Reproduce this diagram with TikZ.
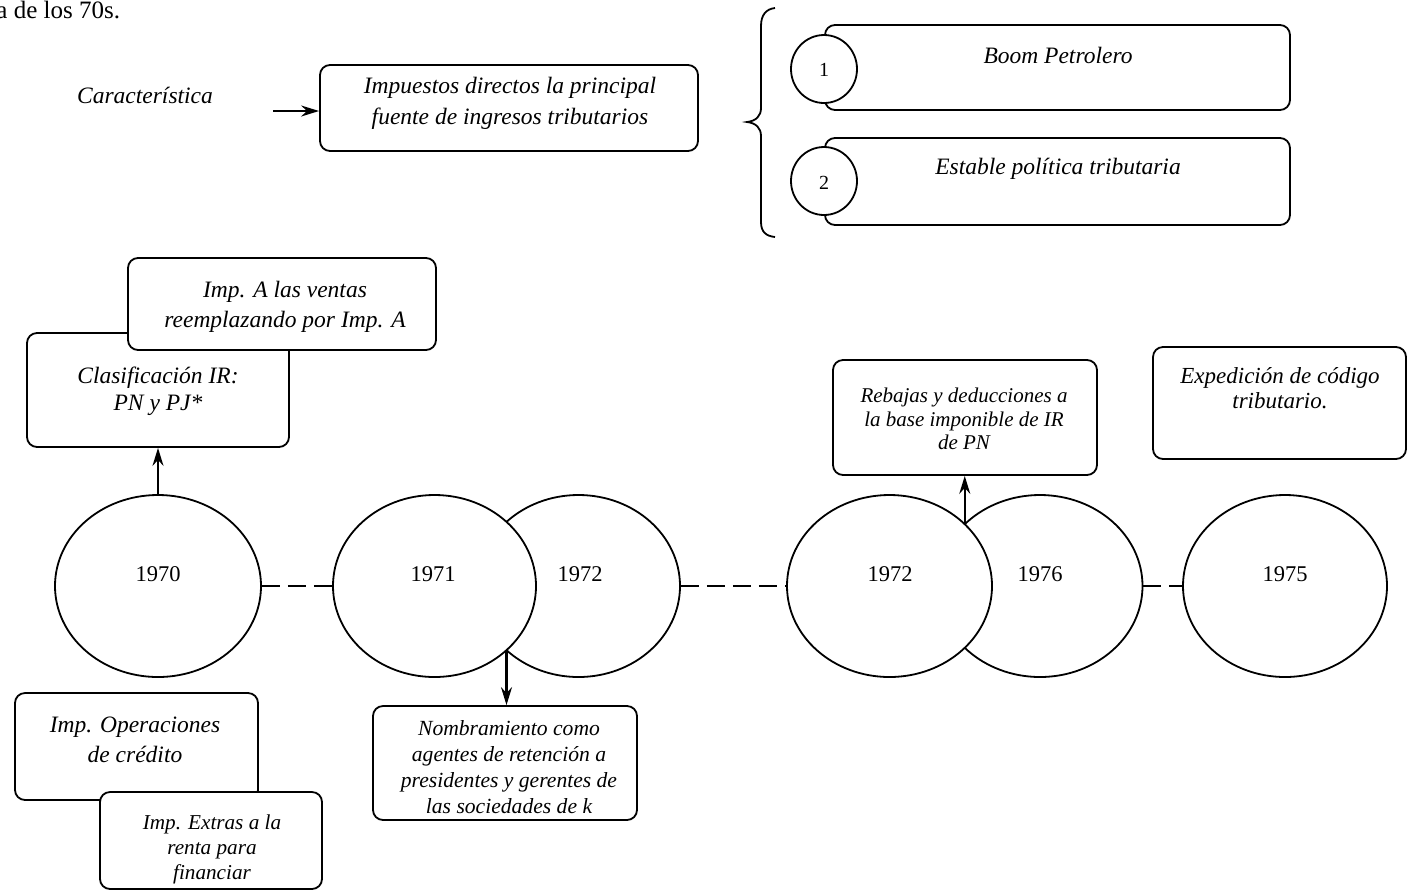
\documentclass[tikz,border=0pt]{standalone}
\usepackage{fontspec}
\setmainfont{Liberation Serif}
\usetikzlibrary{shapes.geometric,arrows.meta}
\newcommand\myfs[2]{\fontsize{#1}{#2}\selectfont\itshape}
\newcommand\myup[1]{\fontsize{#1}{#1}\selectfont}
\tikzset{
  box/.style={draw, rounded corners=5pt, fill=white, line width=0.9pt, inner sep=0pt},
  oval/.style={draw, ellipse, fill=white, line width=0.9pt, inner sep=0pt},
  txt/.style={align=center, inner sep=0pt},
  arr/.style={line width=1.1pt, -{Stealth[length=9pt,width=5.5pt,inset=3pt]}},
  dashline/.style={line width=0.8pt, dash pattern=on 9pt off 4pt},
}
\begin{document}
\begin{tikzpicture}[x=0.5pt,y=-0.5pt]
\useasboundingbox (0,0) rectangle (1408,891);

% title fragment
\node[anchor=base west, inner sep=0pt, font=\myup{12.5pt}] (ttl) at (-4,18) {a de los 70s.};

% top-left part
\node[txt, font=\myfs{11.75pt}{14pt}] (tcar) at (145,95) {Característica};
\node[box, minimum width=189pt, minimum height=43pt] (bImp) at (509,108) {};
\node[txt, font=\myfs{11.75pt}{15.5pt}] (tImp) at (510,103.5) {Impuestos directos la principal\\fuente de ingresos tributarios};
\coordinate (cA) at (273,111);
\draw[arr] (cA) -- (cA -| bImp.west);

% brace
\draw[line width=0.9pt] (775,8) .. controls (766,9) and (761,15) .. (761,26) -- (761,108)
  .. controls (761,116) and (756,121) .. (747,122)
  .. controls (756,123) and (761,128) .. (761,136) -- (761,222)
  .. controls (761,232) and (766,236) .. (775,237);

% right boxes
\node[box, minimum width=232.5pt, minimum height=42.5pt] (bBoom) at (1057.5,67.5) {};
\node[oval, minimum width=33pt, minimum height=34pt] (cOne) at (824,69) {};
\node[txt, font=\myup{10pt}] (tOne) at (824,70) {1};
\node[txt, font=\myfs{11.75pt}{14pt}] (tBoom) at (1058,55) {Boom Petrolero};

\node[box, minimum width=232.5pt, minimum height=43.5pt] (bEst) at (1057.5,181.5) {};
\node[oval, minimum width=33pt, minimum height=34pt] (cTwo) at (824,181) {};
\node[txt, font=\myup{10pt}] (tTwo) at (824,183) {2};
\node[txt, font=\myfs{11.75pt}{14pt}] (tEst) at (1058,169) {Estable política tributaria};

% 1970 upper boxes
\node[box, minimum width=131pt, minimum height=57pt] (bClas) at (158,390) {};
\node[txt, font=\myfs{11.75pt}{13.5pt}] (tClas) at (158,391) {Clasificación IR:\\PN y PJ*};
\node[box, minimum width=154pt, minimum height=46pt] (bImpA) at (282,304) {};
\node[txt, font=\myfs{11.75pt}{15pt}] (tImpA) at (285,307) {Imp. A las ventas\\reemplazando por Imp. A};

% ellipses
\node[oval, minimum width=103pt, minimum height=91pt] (e1970) at (158,586) {};
\node[oval, minimum width=101.5pt, minimum height=91pt] (e1972a) at (578.5,586) {};
\node[oval, minimum width=101.5pt, minimum height=91pt] (e1971) at (434.5,586) {};
\node[oval, minimum width=102.5pt, minimum height=91pt] (e1976) at (1040,586) {};
\node[oval, minimum width=102.5pt, minimum height=91pt] (e1972b) at (889.5,586) {};
\node[oval, minimum width=102pt, minimum height=91pt] (e1975) at (1285,586) {};

\draw[dashline] (e1970.east) -- (e1971.west);
\draw[dashline] (e1972a.east) -- (e1972b.west);
\draw[dashline] (e1976.east) -- (e1975.west);

\node[txt, font=\myup{11.25pt}] (t1970) at (158,574) {1970};
\node[txt, font=\myup{11.25pt}] (t1971) at (433,574) {1971};
\node[txt, font=\myup{11.25pt}] (t1972a) at (580,574) {1972};
\node[txt, font=\myup{11.25pt}] (t1972b) at (890,574) {1972};
\node[txt, font=\myup{11.25pt}] (t1976) at (1040,574) {1976};
\node[txt, font=\myup{11.25pt}] (t1975) at (1285,574) {1975};

% bottom-left boxes
\node[box, minimum width=121.5pt, minimum height=53.5pt] (bOper) at (136.5,746.5) {};
\node[txt, font=\myfs{11.75pt}{15pt}] (tOper) at (135,740) {Imp. Operaciones\\de crédito};
\node[box, minimum width=111pt, minimum height=48.5pt] (bExt) at (211,840.5) {};
\node[txt, font=\myfs{10.6pt}{12.5pt}] (tExt) at (212,849) {Imp. Extras a la\\renta para\\financiar};

% Nombramiento
\node[box, minimum width=132pt, minimum height=57pt] (bNom) at (505,763) {};
\node[txt, font=\myfs{10.8pt}{13pt}] (tNom) at (509,767) {Nombramiento como\\agentes de retención a\\presidentes y gerentes de\\las sociedades de k};

% Rebajas
\node[box, minimum width=132pt, minimum height=57.5pt] (bReb) at (965,417.5) {};
\node[txt, font=\myfs{10.5pt}{11.75pt}] (tReb) at (964,419) {Rebajas y deducciones a\\la base imponible de IR\\de PN};

% Expedicion
\node[box, minimum width=126.5pt, minimum height=56pt] (bExp) at (1279.5,403) {};
\node[txt, font=\myfs{11.5pt}{12.5pt}] (tExp) at (1280,388.5) {Expedición de código\\tributario.};

% arrows
\draw[arr] (e1970.north) -- (bClas.south);
\coordinate (xA) at (506.5,650);
\draw[arr] (xA) -- (xA |- bNom.north);
\coordinate (xB) at (964.75,524);
\draw[arr] (xB) -- (xB |- bReb.south);
\end{tikzpicture}
\end{document}
